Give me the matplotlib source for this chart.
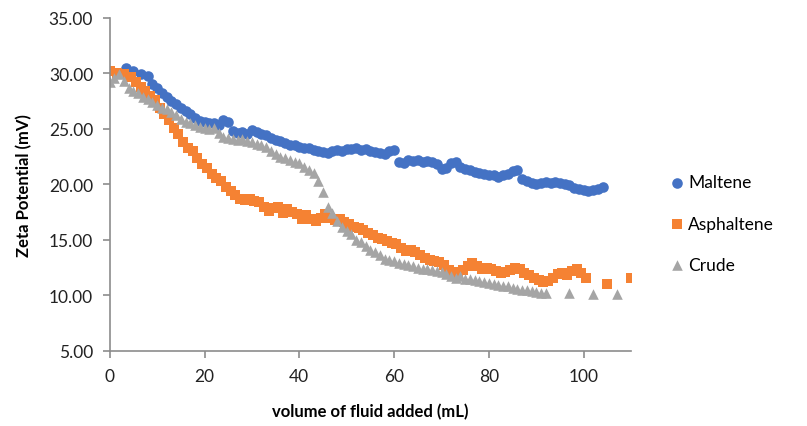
import matplotlib
matplotlib.use("Agg")
import matplotlib.pyplot as plt
from matplotlib.ticker import FormatStrFormatter

# Maltene series (mL, mV)
maltene_x = [2, 3.5, 5, 6.5, 8, 9, 10, 11, 12, 13, 14, 15, 16, 17, 18, 19, 20,
             21, 22, 23, 24, 25, 26, 27, 28, 29, 30, 31, 32, 33, 34, 35, 36, 37,
             38, 39, 40, 41, 42, 43, 44, 45, 46, 47, 48, 49, 50, 51, 52, 53, 54,
             55, 56, 57, 58, 59, 60, 61, 62, 63, 64, 65, 66, 67, 68, 69, 70, 71,
             72, 73, 74, 75, 76, 77, 78, 79, 80, 81, 82, 83, 84, 85, 86, 87, 88,
             89, 90, 91, 92, 93, 94, 95, 96, 97, 98, 99, 100, 101, 102, 103, 104]
maltene_y = [30.0, 30.5, 30.2, 29.9, 29.8, 29.0, 28.7, 28.2, 27.9, 27.5, 27.2,
             26.9, 26.6, 26.3, 26.0, 25.7, 25.6, 25.5, 25.5, 25.3, 25.8, 25.6,
             24.8, 24.6, 24.7, 24.5, 24.9, 24.7, 24.5, 24.4, 24.2, 24.0, 23.9,
             23.7, 23.5, 23.5, 23.4, 23.3, 23.3, 23.1, 23.0, 22.9, 22.8, 23.0,
             23.1, 23.0, 23.2, 23.2, 23.3, 23.1, 23.2, 23.0, 22.9, 22.8, 22.7,
             23.0, 23.1, 22.0, 21.9, 22.2, 22.1, 22.2, 22.0, 22.1, 22.0, 21.8,
             21.4, 21.5, 21.9, 22.0, 21.6, 21.4, 21.3, 21.1, 21.0, 20.9, 20.8,
             20.8, 20.7, 20.8, 20.9, 21.2, 21.3, 20.5, 20.3, 20.1, 20.0, 20.1,
             20.2, 20.1, 20.2, 20.1, 20.0, 19.9, 19.7, 19.6, 19.5, 19.4, 19.5,
             19.6, 19.8]

# Asphaltene series
asph_x = [0, 1.5, 3, 4.5, 5.5, 6.5, 7.5, 8.5, 9.5, 10.5, 11.5, 12.5, 13.5, 14.5,
          15.5, 16.5, 17.5, 18.5, 19.5, 20.5, 21.5, 22.5, 23.5, 24.5, 25.5, 26.5,
          27.5, 28.5, 29.5, 30.5, 31.5, 32.5, 33.5, 34.5, 35.5, 36.5, 37.5, 38.5,
          39.5, 40.5, 41.5, 42.5, 43.5, 44.5, 45.5, 46.5, 47.5, 48.5, 49.5, 50.5,
          51.5, 52.5, 53.5, 54.5, 55.5, 56.5, 57.5, 58.5, 59.5, 60.5, 61.5, 62.5,
          63.5, 64.5, 65.5, 66.5, 67.5, 68.5, 69.5, 70.5, 71.5, 72.5, 73.5, 74.5,
          75.5, 76.5, 77.5, 78.5, 79.5, 80.5, 81.5, 82.5, 83.5, 84.5, 85.5, 86.5,
          87.5, 88.5, 89.5, 90.5, 91.5, 92.5, 93.5, 94.5, 95.5, 96.5, 97.5, 98.5,
          99.5, 100.5, 105, 110]
asph_y = [30.2, 30.0, 29.9, 29.7, 29.2, 28.8, 28.4, 28.0, 27.6, 26.9, 26.3, 25.8,
          25.1, 24.5, 23.8, 23.3, 23.0, 22.4, 21.8, 21.5, 20.9, 20.6, 20.3, 19.8,
          19.4, 19.0, 18.7, 18.6, 18.7, 18.5, 18.4, 18.0, 17.6, 17.9, 18.0, 17.4,
          17.8, 17.5, 17.3, 16.9, 17.2, 16.9, 16.7, 17.0, 17.3, 17.0, 16.8, 16.9,
          16.6, 16.4, 16.2, 16.1, 15.9, 15.6, 15.4, 15.2, 15.1, 14.9, 14.7, 14.6,
          14.3, 14.0, 14.1, 13.9, 13.6, 13.4, 13.2, 13.1, 13.0, 12.7, 12.3, 12.1,
          11.9, 12.3, 12.6, 12.9, 12.6, 12.4, 12.5, 12.4, 12.2, 12.0, 12.1, 12.3,
          12.5, 12.4, 12.0, 11.8, 11.6, 11.4, 11.2, 11.3, 11.6, 11.9, 12.0, 11.8,
          12.2, 12.4, 12.0, 11.6, 11.0, 11.6]

# Crude series
crude_x = [0, 1, 2, 3, 4, 5, 6, 7, 8, 9, 10, 11, 12, 13, 14, 15, 16, 17, 18, 19,
           20, 21, 22, 23, 24, 25, 26, 27, 28, 29, 30, 31, 32, 33, 34, 35, 36, 37,
           38, 39, 40, 41, 42, 43, 44, 45, 46, 47, 48, 49, 50, 51, 52, 53, 54, 55,
           56, 57, 58, 59, 60, 61, 62, 63, 64, 65, 66, 67, 68, 69, 70, 71, 72, 73,
           74, 75, 76, 77, 78, 79, 80, 81, 82, 83, 84, 85, 86, 87, 88, 89, 90, 91,
           92, 97, 102, 107]
crude_y = [29.2, 29.6, 29.9, 29.3, 28.7, 28.4, 28.2, 27.9, 27.7, 27.4, 27.1, 26.9,
           26.8, 26.5, 26.2, 25.9, 25.6, 25.5, 25.3, 25.2, 25.1, 25.0, 25.1, 24.6,
           24.3, 24.2, 24.1, 24.0, 24.1, 23.9, 23.8, 23.6, 23.5, 23.4, 23.0, 22.7,
           22.5, 22.4, 22.2, 22.0, 21.9, 21.6, 21.3, 21.0, 20.3, 19.3, 18.0, 17.4,
           16.7, 16.2, 15.8, 15.5, 15.0, 14.8, 14.4, 14.1, 13.9, 13.6, 13.3, 13.2,
           13.1, 12.9, 12.8, 12.7, 12.6, 12.5, 12.4, 12.4, 12.3, 12.2, 12.1, 11.9,
           11.7, 11.6, 11.7, 11.5, 11.5, 11.4, 11.3, 11.2, 11.1, 11.0, 10.9, 10.8,
           10.8, 10.7, 10.6, 10.5, 10.5, 10.4, 10.3, 10.2, 10.2, 10.2, 10.1, 10.1]

plt.rcParams['font.family'] = ['Lato', 'DejaVu Sans']

fig = plt.figure(figsize=(8.07, 4.27), dpi=100)
ax = fig.add_axes([0.136, 0.176, 0.646, 0.78])

ax.scatter(maltene_x, maltene_y, marker='o', s=58, color='#4472C4',
           linewidths=0, label='Maltene')
ax.scatter(asph_x, asph_y, marker='s', s=60, color='#F58233',
           linewidths=0, label='Asphaltene')
ax.scatter(crude_x, crude_y, marker='^', s=58, color='#A5A5A5',
           linewidths=0, label='Crude')

ax.set_xlim(0, 110)
ax.set_ylim(5, 35)
ax.set_xticks([0, 20, 40, 60, 80, 100])
ax.set_yticks([5, 10, 15, 20, 25, 30, 35])
ax.yaxis.set_major_formatter(FormatStrFormatter('%.2f'))

for side in ['top', 'right']:
    ax.spines[side].set_visible(False)
for side in ['left', 'bottom']:
    ax.spines[side].set_color('#8c8c8c')
    ax.spines[side].set_linewidth(1.2)
ax.tick_params(colors='#8c8c8c', labelcolor='#222222', labelsize=12.5,
               length=5, width=1.2, pad=7)

ax.set_xlabel('volume of fluid added (mL)', fontsize=12, fontweight='bold',
              labelpad=14)
ax.set_ylabel('Zeta Potential (mV)', fontsize=12, fontweight='bold',
              labelpad=12)

fig.legend(loc='center left', bbox_to_anchor=(0.818, 0.474), frameon=False,
           fontsize=12.5, labelspacing=1.45, handletextpad=0.1,
           handlelength=1.0, borderpad=0)

fig.savefig('out.png', dpi=100)
